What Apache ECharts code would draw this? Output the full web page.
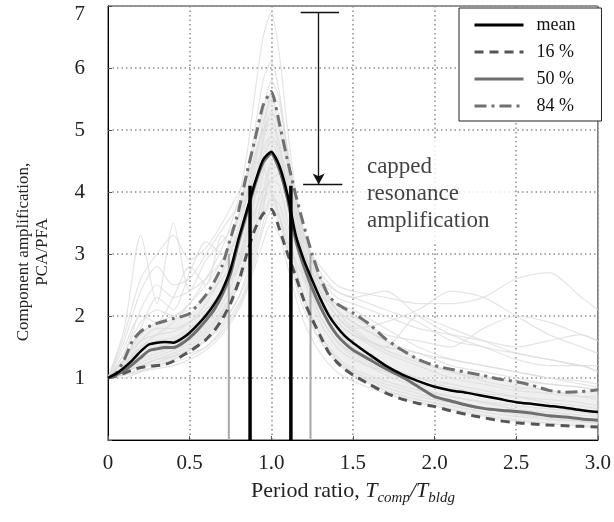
<!DOCTYPE html>
<html><head><meta charset="utf-8">
<script src="https://cdn.jsdelivr.net/npm/echarts@6/dist/echarts.min.js"></script>
<style>html,body{margin:0;padding:0;background:#fff}#c{width:614px;height:522px}</style>
</head><body><div id="c"></div>
<script>
// ---- data ----
const X = [0,0.05,0.1,0.15,0.2,0.25,0.3,0.35,0.4,0.45,0.5,0.55,0.6,0.65,0.7,0.75,0.8,0.85,0.9,0.95,1.0,1.05,1.1,1.15,1.2,1.25,1.3,1.35,1.4,1.45,1.5,1.6,1.7,1.8,1.9,2.0,2.1,2.2,2.3,2.4,2.5,2.6,2.7,2.8,2.9,3.0];
const meanVals = [1.00,1.07,1.17,1.29,1.43,1.54,1.57,1.58,1.57,1.63,1.73,1.86,2.01,2.19,2.42,2.75,3.25,3.70,4.15,4.52,4.65,4.42,3.95,3.30,2.90,2.58,2.28,2.02,1.83,1.68,1.57,1.38,1.20,1.06,0.95,0.86,0.80,0.76,0.71,0.66,0.61,0.58,0.55,0.52,0.48,0.45];
const p16Vals  = [1.00,1.03,1.08,1.13,1.17,1.19,1.20,1.22,1.27,1.35,1.43,1.52,1.62,1.76,1.95,2.20,2.55,3.00,3.40,3.65,3.72,3.40,3.00,2.64,2.25,1.95,1.68,1.42,1.26,1.14,1.05,0.90,0.76,0.66,0.59,0.54,0.47,0.41,0.36,0.31,0.28,0.26,0.24,0.23,0.22,0.21];
const p50Vals  = [1.00,1.05,1.12,1.22,1.33,1.44,1.47,1.49,1.49,1.55,1.65,1.78,1.93,2.10,2.35,2.68,3.20,3.66,4.12,4.48,4.62,4.36,3.88,3.22,2.80,2.45,2.15,1.90,1.70,1.56,1.45,1.30,1.15,1.02,0.86,0.70,0.63,0.56,0.51,0.48,0.46,0.43,0.39,0.37,0.34,0.32];
const p84Vals  = [1.00,1.08,1.30,1.60,1.75,1.83,1.88,1.92,1.96,1.99,2.04,2.18,2.34,2.55,2.82,3.25,3.70,4.30,4.85,5.40,5.62,5.10,4.50,3.95,3.45,3.00,2.62,2.33,2.20,2.12,2.05,1.87,1.63,1.45,1.30,1.20,1.14,1.09,1.04,0.98,0.94,0.88,0.80,0.77,0.78,0.81];

const FX = [0,0.1,0.2,0.3,0.4,0.5,0.6,0.7,0.8,0.85,0.9,0.95,1.0,1.05,1.1,1.15,1.2,1.3,1.4,1.5,1.7,1.9,2.1,2.3,2.5,2.7,2.9,3.0];
const rec01 = [1,1.2,1.5,1.7,1.9,2.2,2.6,3.1,3.9,4.6,5.6,6.5,6.9,6.2,5.0,4.0,3.3,2.5,2.1,1.9,1.6,1.3,1.1,0.95,0.85,0.8,0.7,0.65];
const rec02 = [1,1.4,1.9,2.1,2.0,2.2,2.5,2.9,3.6,4.2,5.0,5.8,6.1,5.6,4.6,3.7,3.0,2.3,1.9,1.7,1.5,1.4,1.2,1.1,1.0,0.9,0.85,0.8];
const rec03 = [1,1.1,1.3,1.4,1.5,1.6,1.8,2.1,2.6,3.0,3.6,4.3,4.9,4.7,4.0,3.2,2.7,2.0,1.6,1.4,1.1,0.9,0.8,0.7,0.6,0.55,0.5,0.45];
const rec04 = [1,1.6,2.4,2.8,2.5,2.6,3.0,3.4,3.8,4.2,4.5,4.4,4.0,3.6,3.2,2.9,2.6,2.3,2.2,2.1,1.8,1.5,1.3,1.2,1.1,1.0,0.95,0.9];
const rec05 = [1,1.05,1.15,1.25,1.35,1.45,1.6,1.9,2.3,2.7,3.2,3.8,4.2,4.1,3.5,2.8,2.3,1.7,1.3,1.1,0.85,0.7,0.6,0.5,0.45,0.4,0.35,0.3];
const rec06 = [1,1.3,1.7,1.9,2.0,2.1,2.3,2.6,3.0,3.3,3.7,4.0,4.2,4.3,4.0,3.6,3.2,2.8,2.5,2.4,2.3,2.2,2.2,2.3,2.6,2.7,2.3,2.1];
const rec07 = [1,1.2,1.6,1.8,1.8,1.9,2.1,2.4,2.8,3.2,3.9,4.8,5.3,5.0,4.4,3.7,3.1,2.4,2.0,1.8,1.9,2.1,2.4,2.3,2.0,1.7,1.5,1.4];
const rec08 = [1,1.1,1.2,1.3,1.4,1.5,1.7,2.0,2.5,2.9,3.4,3.9,4.0,3.6,3.0,2.5,2.1,1.6,1.3,1.1,0.9,0.75,0.6,0.5,0.42,0.35,0.3,0.28];
const rec09 = [1,1.8,3.3,2.2,3.5,2.4,2.9,3.2,3.6,4.0,4.6,5.0,5.2,4.8,4.1,3.4,2.9,2.4,2.1,1.9,1.6,1.4,1.3,1.2,1.1,1.0,0.9,0.85];
const rec10 = [1,1.0,1.1,1.15,1.2,1.3,1.45,1.7,2.1,2.4,2.8,3.2,3.5,3.3,2.8,2.3,1.9,1.4,1.1,0.95,0.75,0.6,0.5,0.4,0.32,0.27,0.22,0.2];
const rec11 = [1,1.3,1.6,1.7,1.75,1.9,2.2,2.7,3.4,3.9,4.5,5.1,5.5,5.2,4.5,3.8,3.2,2.6,2.3,2.2,2.0,1.8,1.7,1.6,1.5,1.6,1.7,1.6];
const rec12 = [1,1.15,1.35,1.5,1.55,1.65,1.85,2.2,2.8,3.3,4.0,4.6,4.8,4.5,3.9,3.2,2.6,1.9,1.5,1.3,1.1,1.0,0.9,0.8,0.7,0.65,0.6,0.55];
const rec13 = [1,1.5,2.0,1.9,2.3,2.8,2.5,3.3,2.9,3.5,3.9,4.4,4.7,4.5,4.2,3.5,2.9,2.2,1.9,1.7,1.4,1.2,1.0,0.9,0.8,0.75,0.7,0.7];
const rec14 = [1,1.1,1.25,1.35,1.45,1.55,1.75,2.05,2.5,2.8,3.3,4.0,4.5,4.6,4.3,3.7,3.1,2.3,1.8,1.5,1.2,1.0,0.85,0.75,0.7,0.6,0.55,0.5];
const rec15 = [1,1.2,1.45,1.55,1.6,1.75,2.0,2.3,2.9,3.4,4.1,4.9,5.6,5.4,4.6,3.9,3.3,2.6,2.1,1.8,1.5,2.0,1.8,1.6,1.4,1.3,1.2,1.1];
const rec16 = [1,1.05,1.1,1.2,1.3,1.4,1.5,1.8,2.2,2.5,3.0,3.5,3.9,3.8,3.3,2.8,2.3,1.7,1.35,1.15,0.95,0.8,0.7,0.62,0.55,0.5,0.45,0.4];
const rec17 = [1,1.7,2.6,3.0,3.3,2.9,3.1,3.5,4.0,4.3,4.8,5.3,5.8,5.5,4.7,3.9,3.3,2.7,2.4,2.3,2.1,1.9,1.6,1.5,1.3,1.2,1.2,1.1];
const rec18 = [1,1.3,1.8,2.3,2.1,2.7,3.2,3.0,3.6,3.9,4.3,4.7,4.9,4.6,4.0,3.4,3.0,2.6,2.4,2.3,2.4,2.0,1.7,1.5,1.4,1.3,1.2,1.2];
const rec19 = [1,1.1,1.2,1.3,1.35,1.45,1.6,1.85,2.3,2.6,3.1,3.7,4.4,4.4,4.0,3.4,2.8,2.0,1.6,1.35,1.05,0.85,0.7,0.6,0.5,0.45,0.4,0.38];
const rec20 = [1,1.25,1.5,1.6,1.65,1.8,2.0,2.4,3.1,3.6,4.4,5.0,5.1,4.7,4.1,3.5,3.0,2.4,2.0,1.75,1.45,1.25,1.1,1.0,0.95,0.9,0.85,0.8];
const rec21 = [1,1.05,1.12,1.18,1.25,1.35,1.5,1.75,2.15,2.45,2.9,3.4,3.7,3.6,3.1,2.6,2.2,1.6,1.25,1.05,0.8,0.65,0.55,0.45,0.38,0.33,0.3,0.27];
const rec22 = [1,1.4,2.1,2.5,2.3,2.4,2.6,2.9,3.3,3.6,4.1,4.5,4.6,4.4,3.9,3.4,3.0,2.5,2.2,2.0,1.7,1.6,1.5,1.8,2.0,1.9,1.7,1.6];
const records = [rec01,rec02,rec03,rec04,rec05,rec06,rec07,rec08,rec09,rec10,rec11,rec12,rec13,rec14,rec15,rec16,rec17,rec18,rec19,rec20,rec21,rec22];

const legendNames = ['mean','16 %','50 %','84 %'];
const capBarX = [0.87, 1.12];
const capBarTop = 4.1;
const bandBarX = [0.74, 1.24];
const bandBarTop = 3.0;
const arrowX = 1.29;
const arrowTop = 6.9;
const arrowBottom = 4.12;
const arrowCapTop = [1.18, 1.415];
const arrowCapBottom = [1.195, 1.435];
const annotText = 'capped\nresonance\namplification';
const annotAt = [1.506, 4.85];

// ---- chart ----
const FONT = '"Liberation Serif", "Times New Roman", serif';
const pairs = (xs, ys) => xs.map((x, i) => [x, ys[i]]);
const chart = echarts.init(document.getElementById('c'), null, {renderer: 'canvas'});

const series = [];
// light band of the record cloud between the 16 % and 84 % curves
series.push({
  name: 'cloud', type: 'custom', silent: true, z: 1, data: [[0, 0]],
  renderItem: (params, api) => {
    const pts = [];
    X.forEach((x, i) => pts.push(api.coord([x, p84Vals[i]])));
    for (let i = X.length - 1; i >= 0; i--) pts.push(api.coord([X[i], p16Vals[i]]));
    return {type: 'polygon', shape: {points: pts, smooth: 0.2}, style: {fill: '#e2e2e2', opacity: 0.55}};
  }
});
records.forEach((r, i) => series.push({
  name: 'rec' + i, type: 'line', data: pairs(FX, r), showSymbol: false, silent: true,
  smooth: 0.25, z: 2, lineStyle: {color: '#dcdcdc', width: 1.2, opacity: 0.75}
}));
bandBarX.forEach((x, i) => series.push({
  name: 'band' + i, type: 'line', data: [[x, 0], [x, bandBarTop]], showSymbol: false, silent: true, z: 4,
  lineStyle: {color: '#a8a8a8', width: 2}
}));
series.push({
  name: 'annot', type: 'scatter', data: [annotAt], symbolSize: 0, silent: true, z: 3,
  label: {show: true, position: [0, 0], align: 'left', verticalAlign: 'top', formatter: annotText,
    fontFamily: FONT, fontSize: 23, lineHeight: 27, color: '#111', backgroundColor: '#fff',
    padding: [14, 25, 9, 13]},
  markLine: {silent: true, symbol: ['none', 'none'], label: {show: false}, animation: false,
    lineStyle: {color: '#111', width: 1.3, type: 'solid'},
    data: [
      [{coord: [arrowX, arrowTop]}, {coord: [arrowX, arrowBottom], symbol: 'arrow', symbolSize: [9, 11]}],
      [{coord: [arrowCapTop[0], arrowTop]}, {coord: [arrowCapTop[1], arrowTop]}],
      [{coord: [arrowCapBottom[0], arrowBottom]}, {coord: [arrowCapBottom[1], arrowBottom]}]
    ]}
});
series.push({name: '16 %', type: 'line', data: pairs(X, p16Vals), showSymbol: false, symbol: 'none', smooth: 0.2, z: 5,
  lineStyle: {color: '#555', width: 3, type: [9, 6]}, itemStyle: {color: '#555'}});
series.push({name: '84 %', type: 'line', data: pairs(X, p84Vals), showSymbol: false, symbol: 'none', smooth: 0.2, z: 5,
  lineStyle: {color: '#707070', width: 3, type: [12, 5, 3, 5]}, itemStyle: {color: '#707070'}});
series.push({name: '50 %', type: 'line', data: pairs(X, p50Vals), showSymbol: false, symbol: 'none', smooth: 0.2, z: 6,
  lineStyle: {color: '#6e6e6e', width: 3}, itemStyle: {color: '#6e6e6e'}});
series.push({name: 'mean', type: 'line', data: pairs(X, meanVals), showSymbol: false, symbol: 'none', smooth: 0.2, z: 7,
  lineStyle: {color: '#000', width: 2.5}, itemStyle: {color: '#000'}});
capBarX.forEach((x, i) => series.push({
  name: 'cap' + i, type: 'line', data: [[x, 0], [x, capBarTop]], showSymbol: false, silent: true, z: 8,
  lineStyle: {color: '#000', width: 3.5}
}));

chart.setOption({
  animation: false,
  backgroundColor: '#fff',
  grid: {left: 108, right: 14, top: 6, bottom: 82, show: true, borderColor: '#333', borderWidth: 1, backgroundColor: 'transparent'},
  legend: {
    data: legendNames, orient: 'vertical', left: 459, top: 8,
    itemWidth: 49, itemHeight: 14, itemGap: 9,
    padding: [8, 26, 6, 14], borderColor: '#222', borderWidth: 1, backgroundColor: '#fff',
    itemStyle: {opacity: 0},
    lineStyle: {width: 3},
    textStyle: {fontFamily: FONT, fontSize: 18, color: '#111', padding: [0, 0, 0, 8]},
    selectedMode: false
  },
  xAxis: {
    type: 'value', min: 0, max: 3, interval: 0.5,
    axisLine: {show: true, lineStyle: {color: '#000', width: 1}},
    axisTick: {show: true, inside: true, length: 4, lineStyle: {color: '#555'}},
    axisLabel: {fontFamily: FONT, fontSize: 21, color: '#222', margin: 13,
      formatter: v => (v === 0 ? '0' : v.toFixed(1))},
    splitLine: {show: true, lineStyle: {color: '#8c8c8c', width: 1.5, type: [1.5, 3]}},
    name: '{a|Period ratio, }{i|T}{s|comp}{i|/T}{s|bldg}', nameLocation: 'middle', nameGap: 36,
    nameTextStyle: {rich: {
      a: {fontFamily: FONT, fontSize: 22, color: '#222', lineHeight: 30, verticalAlign: 'middle'},
      i: {fontFamily: FONT, fontSize: 22, fontStyle: 'italic', color: '#222', lineHeight: 30, verticalAlign: 'middle'},
      s: {fontFamily: FONT, fontSize: 15, fontStyle: 'italic', color: '#222', lineHeight: 17, verticalAlign: 'bottom'}
    }}
  },
  yAxis: {
    type: 'value', min: 0, max: 7, interval: 1,
    axisLine: {show: true, lineStyle: {color: '#000', width: 1}},
    axisTick: {show: true, inside: true, length: 4, lineStyle: {color: '#555'}},
    axisLabel: {fontFamily: FONT, fontSize: 21, color: '#222', margin: 23,
      formatter: v => (v === 0 ? '' : (v === 7 ? '{t|7}' : String(v))),
      rich: {t: {fontFamily: FONT, fontSize: 21, color: '#222', padding: [16, 0, 0, 0]}}},
    splitLine: {show: true, lineStyle: {color: '#8c8c8c', width: 1.5, type: [1.5, 3]}},
    name: 'Component amplification,\nPCA/PFA', nameLocation: 'middle', nameRotate: 90, nameGap: 56,
    nameTextStyle: {fontFamily: FONT, fontSize: 17, color: '#222', lineHeight: 19, padding: [0, 58, 0, 0]}
  },
  series: series
});
</script></body></html>
